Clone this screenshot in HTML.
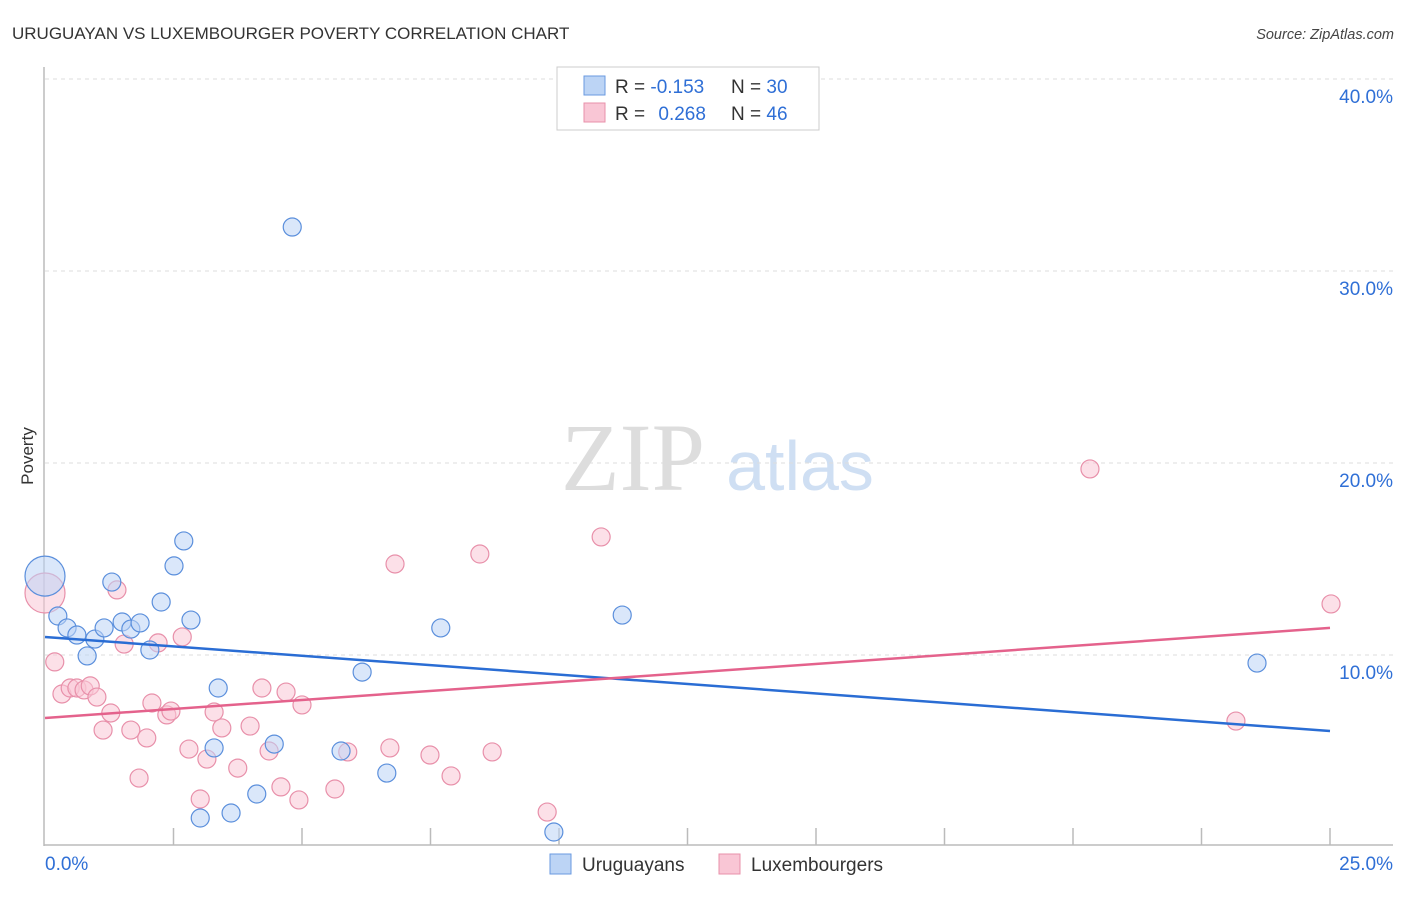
<!DOCTYPE html>
<html><head><meta charset="utf-8"><style>
body{margin:0;background:#fff;font-family:"Liberation Sans",sans-serif}
svg text{font-family:"Liberation Sans",sans-serif}
</style></head><body>
<svg width="1406" height="892" viewBox="0 0 1406 892">
<text x="12" y="39" font-size="17" fill="#333">URUGUAYAN VS LUXEMBOURGER POVERTY CORRELATION CHART</text>
<text x="1394" y="39" font-size="14.5" fill="#444" font-style="italic" text-anchor="end">Source: ZipAtlas.com</text>
<text x="0" y="0" transform="translate(33,456) rotate(-90)" font-size="17" fill="#333" text-anchor="middle">Poverty</text>
<g>
<text x="633" y="490" font-size="96" fill="#ddd" text-anchor="middle" font-family="Liberation Serif,serif" style="font-family:'Liberation Serif',serif">ZIP</text>
<text x="800" y="490" font-size="70" fill="#cfdff3" text-anchor="middle">atlas</text>
</g>
<g id="grid"></g>
<g id="axes"></g>
<g id="pts"></g>
<g id="trends"></g>
<g>
<rect x="557" y="67" width="262" height="63" fill="#fff" stroke="#ccc"/>
<rect x="584" y="76" width="21" height="19" fill="#bcd4f5" stroke="#6a9ae0"/>
<rect x="584" y="103" width="21" height="19" fill="#f9c6d5" stroke="#e890aa"/>
<text x="615" y="93" font-size="19" fill="#333">R = <tspan fill="#2f6fd6">-0.153</tspan></text>
<text x="731" y="93" font-size="19" fill="#333">N = <tspan fill="#2f6fd6">30</tspan></text>
<text x="615" y="120" font-size="19" fill="#333">R = <tspan fill="#2f6fd6" dx="8">0.268</tspan></text>
<text x="731" y="120" font-size="19" fill="#333">N = <tspan fill="#2f6fd6">46</tspan></text>
</g>
<g>
<rect x="550" y="854" width="21" height="20" fill="#bcd4f5" stroke="#6a9ae0"/>
<text x="582" y="871" font-size="19" fill="#333">Uruguayans</text>
<rect x="719" y="854" width="21" height="20" fill="#f9c6d5" stroke="#e890aa"/>
<text x="751" y="871" font-size="19" fill="#333">Luxembourgers</text>
</g>
</svg>
<script>
const yTicks=[10,20,30,40];
const xTickLabels=["0.0%","25.0%"];
const blueX=[0,0.25,0.43,0.62,0.97,0.82,1.15,1.30,1.50,1.67,1.85,2.04,2.26,2.51,2.70,2.84,3.37,3.29,4.46,4.81,4.12,3.62,3.02,5.76,6.17,6.65,7.70,9.90,11.23,23.58];
const blueY=[14.11,12.03,11.41,11.04,10.83,9.95,11.41,13.80,11.72,11.35,11.67,10.26,12.76,14.64,15.94,11.82,8.28,5.16,5.36,32.29,2.76,1.77,1.51,5.00,9.11,3.85,11.41,0.78,12.08,9.58];
const pinkX=[0,0.19,0.33,0.49,0.62,0.76,0.88,1.01,1.13,1.28,1.40,1.54,1.67,1.83,1.98,2.08,2.20,2.37,2.45,2.67,2.80,3.02,3.15,3.29,3.44,3.75,3.99,4.22,4.36,4.59,4.69,4.94,5.00,5.64,5.89,6.71,6.81,7.49,7.90,8.46,8.70,9.77,10.82,20.33,23.17,25.02];
const pinkY=[13.23,9.64,7.97,8.28,8.28,8.18,8.39,7.81,6.09,6.98,13.39,10.57,6.09,3.59,5.68,7.50,10.63,6.88,7.08,10.94,5.10,2.50,4.58,7.03,6.20,4.11,6.30,8.28,5.00,3.13,8.07,2.45,7.40,3.02,4.95,5.16,14.74,4.79,3.70,15.26,4.95,1.82,16.15,19.69,6.56,12.66];
const blueTrend=[10.94,6.04];
const pinkTrend=[6.72,11.41];
const NS="http://www.w3.org/2000/svg";
const xs=v=>45+v/25*1285, ys=v=>847-v*19.2;
function mk(p,t,a){const e=document.createElementNS(NS,t);for(const k in a)e.setAttribute(k,a[k]);document.getElementById(p).appendChild(e);return e;}
yTicks.forEach(t=>{
 const l=mk('grid','line',{x1:45,x2:1393,y1:ys(t),y2:ys(t),stroke:'#ddd','stroke-dasharray':'4,4'});
 
 
 const tx=mk('grid','text',{x:1393,y:ys(t)+24,'font-size':19,fill:'#2f6fd6','text-anchor':'end'});
 tx.textContent=t.toFixed(1)+'%';
 
 
});
let a=mk('axes','line',{x1:44,x2:44,y1:67,y2:846,stroke:'#bbb','stroke-width':1.5});


a=mk('axes','line',{x1:44,x2:1393,y1:845,y2:845,stroke:'#bbb','stroke-width':1.5});


for(let i=1;i<=10;i++){const t=mk('axes','line',{x1:xs(i*2.5),x2:xs(i*2.5),y1:828,y2:845,stroke:'#bbb','stroke-width':1.5});
 
 }
let xl=mk('axes','text',{x:45,y:870,'font-size':19,fill:'#2f6fd6'});xl.textContent=xTickLabels[0];


xl=mk('axes','text',{x:1393,y:870,'font-size':19,fill:'#2f6fd6','text-anchor':'end'});xl.textContent=xTickLabels[1];


function pts(X,Y,fill,stroke,name){X.forEach((x,i)=>{const r=(i===0)?20:9;
 const c=mk('pts','circle',{cx:xs(x),cy:ys(Y[i]),r:r,fill:fill,'fill-opacity':0.55,stroke:stroke,'stroke-width':1.2});
 
 });}
pts(pinkX,pinkY,'#f9c6d5','#e890aa','luxembourger-point');
pts(blueX,blueY,'#bcd4f5','#5b8fdc','uruguayan-point');
let tl=mk('trends','line',{x1:xs(0),x2:xs(25),y1:ys(blueTrend[0]),y2:ys(blueTrend[1]),stroke:'#2a6dd4','stroke-width':2.5});


tl=mk('trends','line',{x1:xs(0),x2:xs(25),y1:ys(pinkTrend[0]),y2:ys(pinkTrend[1]),stroke:'#e4628c','stroke-width':2.5});


</script>
</body></html>
